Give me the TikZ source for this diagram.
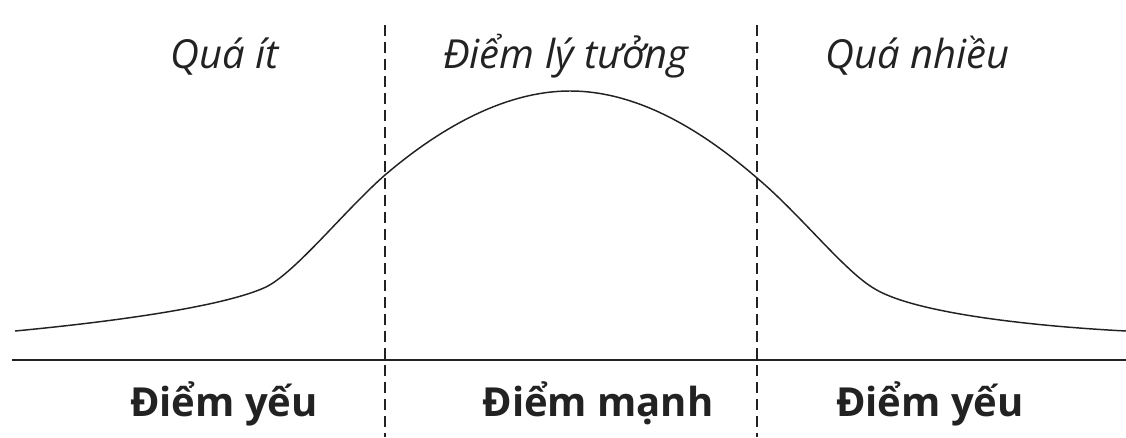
\documentclass[tikz,border=0pt]{standalone}
\usepackage{fontspec}
\setmainfont{Open Sans}
\definecolor{ink}{HTML}{222222}
\begin{document}
\begin{tikzpicture}[x=0.75pt,y=-0.75pt,
  divider/.style={draw=ink,line width=1.3pt,dash pattern=on 8.25pt off 4.5pt},
  baseline axis/.style={draw=ink,line width=1.3pt},
  bell/.style={draw=ink,line width=1.1pt},
  toplabel/.style={anchor=base,text=ink,font=\fontsize{30}{36}\selectfont\itshape,inner sep=0pt},
  botlabel/.style={anchor=base,text=ink,font=\fontsize{30}{36}\selectfont\bfseries,inner sep=0pt}]
\useasboundingbox (0,0) rectangle (1126,437);
% dividers
\coordinate (d1t) at (385,25); \coordinate (d1b) at (385,437);
\coordinate (d2t) at (757,25); \coordinate (d2b) at (757,437);
\draw[divider] (d1t) -- (d1b);
\draw[divider] (d2t) -- (d2b);
% axis
\coordinate (al) at (12,360); \coordinate (ar) at (1126,360);
\draw[baseline axis] (al) -- (ar);
% bell curve
\coordinate (c0) at (15,331);
\coordinate (c1) at (266,287);
\coordinate (c2) at (385,175);
\coordinate (c3) at (570,91);
\coordinate (c4) at (757,178);
\coordinate (c5) at (875,289);
\coordinate (c6) at (1126,331);
\draw[bell] (c0) .. controls (120,321) and (225,306) .. (c1)
  .. controls (296,272) and (345,210) .. (c2)
  .. controls (440,128) and (505,91) .. (c3)
  .. controls (640,91) and (705,133) .. (c4)
  .. controls (800,214) and (845,272) .. (c5)
  .. controls (915,313) and (1030,326) .. (c6);
% labels
\node[toplabel] (t1) at (225,68) {Quá ít};
\node[toplabel] (t2) at (566,68) {Điểm lý tưởng};
\node[toplabel] (t3) at (918,68) {Quá nhiều};
\node[botlabel] (b1) at (224,416) {Điểm yếu};
\node[botlabel] (b2) at (598,416) {Điểm mạnh};
\node[botlabel] (b3) at (930,416) {Điểm yếu};
\end{tikzpicture}
\end{document}
